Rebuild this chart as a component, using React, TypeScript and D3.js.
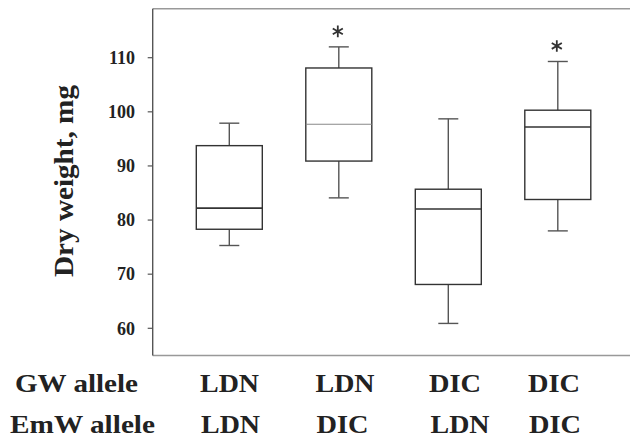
import React from "react";
import * as d3 from "d3";

const groups = [1, 2, 3, 4];
const gwAllele = ["LDN", "LDN", "DIC", "DIC"];
const emwAllele = ["LDN", "DIC", "LDN", "DIC"];
const whiskerLow = [75.3, 84.1, 60.9, 78.0];
const q1 = [78.3, 90.9, 68.1, 83.8];
const median = [82.2, 97.7, 82.05, 97.2];
const q3 = [93.75, 108.1, 85.7, 100.3];
const whiskerHigh = [97.9, 112.0, 98.7, 109.3];
const significant = [false, true, false, true];
const yTicks = [60, 70, 80, 90, 100, 110];

const width = 630;
const height = 437;
const font = "'Liberation Serif', 'Times New Roman', 'Liberation Sans', Arial, sans-serif";

// widths the bold serif words take in the reference
const wordWidth: Record<string, number> = {
  LDN: 59,
  DIC: 52,
  "GW allele": 123,
  "EmW allele": 145,
  "Dry weight, mg": 192,
};

const App = () => {
  const plot = { left: 152.7, top: 8.7, right: 640, bottom: 355.5 };

  const y = d3.scaleLinear().domain([60, 110]).range([328.3, 57.7]);
  const x = d3.scaleLinear().domain([1, 4]).range([229.3, 557.8]);
  const labelX = d3.scaleOrdinal<number, number>().domain(groups).range([200, 315.5, 429, 528]);

  const boxW = 66;
  const capW = 20;
  const star = d3.symbol(d3.symbolAsterisk, 95)();

  const bold = { fontFamily: font, fontWeight: 700 } as React.CSSProperties;

  const word = (s: string, px: number, py: number, key?: string) => (
    <text
      key={key}
      x={px}
      y={py}
      textLength={wordWidth[s]}
      lengthAdjust="spacingAndGlyphs"
      style={{ ...bold, fontSize: 26 }}
      fill="#222"
    >
      {s}
    </text>
  );

  return (
    <svg
      width={width}
      height={height}
      style={{ position: "absolute", left: 0, top: 0, background: "#fff", fontFamily: font }}
    >
      {/* frame */}
      <line x1={plot.left} x2={plot.right} y1={plot.top} y2={plot.top} stroke="#999" strokeWidth={1.6} />
      <line x1={plot.left} x2={plot.right} y1={plot.bottom} y2={plot.bottom} stroke="#999" strokeWidth={1.6} />
      <line x1={plot.left} x2={plot.left} y1={plot.top} y2={plot.bottom} stroke="#555" strokeWidth={1.4} />

      {/* y ticks */}
      {yTicks.map((t) => (
        <g key={t}>
          <line x1={plot.left - 5} x2={plot.left} y1={y(t)} y2={y(t)} stroke="#555" strokeWidth={1.2} />
          <text x={135} y={y(t)} dy="0.35em" textAnchor="end" style={{ ...bold, fontSize: 18 }} fill="#222">
            {t}
          </text>
        </g>
      ))}

      <text
        transform="translate(73,181) rotate(-90)"
        textAnchor="middle"
        textLength={wordWidth["Dry weight, mg"]}
        lengthAdjust="spacingAndGlyphs"
        style={{ ...bold, fontSize: 28 }}
        fill="#222"
      >
        Dry weight, mg
      </text>

      {/* boxes */}
      {groups.map((g, i) => {
        const cx = x(g);
        return (
          <g key={g}>
            <line x1={cx} x2={cx} y1={y(whiskerHigh[i])} y2={y(q3[i])} stroke="#555" strokeWidth={1.4} />
            <line x1={cx} x2={cx} y1={y(q1[i])} y2={y(whiskerLow[i])} stroke="#555" strokeWidth={1.4} />
            <line x1={cx - capW / 2} x2={cx + capW / 2} y1={y(whiskerHigh[i])} y2={y(whiskerHigh[i])} stroke="#555" strokeWidth={1.4} />
            <line x1={cx - capW / 2} x2={cx + capW / 2} y1={y(whiskerLow[i])} y2={y(whiskerLow[i])} stroke="#555" strokeWidth={1.4} />
            <rect
              x={cx - boxW / 2}
              y={y(q3[i])}
              width={boxW}
              height={y(q1[i]) - y(q3[i])}
              fill="#fff"
              stroke="#333"
              strokeWidth={1.4}
            />
            <line
              x1={cx - boxW / 2}
              x2={cx + boxW / 2}
              y1={y(median[i])}
              y2={y(median[i])}
              stroke={i === 1 ? "#888" : "#333"}
              strokeWidth={i === 1 ? 1.1 : 1.6}
            />
            {significant[i] && (
              <path
                d={star}
                transform={`translate(${cx - 1},${y(whiskerHigh[i]) - 15.5})`}
                fill="none"
                stroke="#333"
                strokeWidth={1.8}
              />
            )}
          </g>
        );
      })}

      {/* allele rows */}
      {word("GW allele", 15, 391.7)}
      {word("EmW allele", 10, 432.5)}
      {groups.map((g, i) => (
        <g key={"lab" + g}>
          {word(gwAllele[i], labelX(g), 391.7)}
          {word(emwAllele[i], labelX(g) + (emwAllele[i] === "LDN" && i > 0 ? 1.5 : 1), 432.5)}
        </g>
      ))}
    </svg>
  );
};

export default App;
